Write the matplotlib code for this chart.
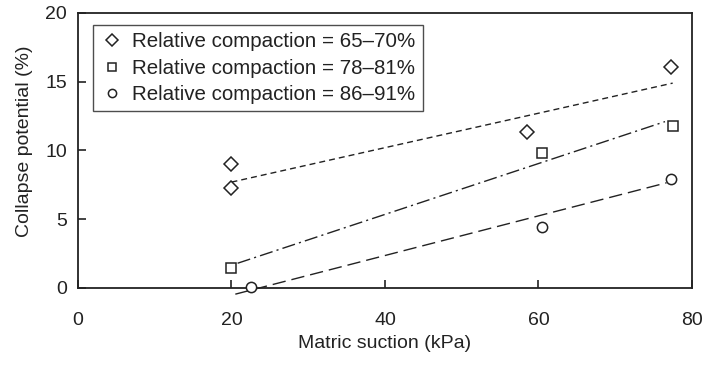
import matplotlib
matplotlib.use("Agg")
import matplotlib.pyplot as plt

plt.rcParams['font.family'] = ['Liberation Sans', 'DejaVu Sans']

# measured points (matric suction kPa, collapse potential %)
x_65 = [20, 20, 58.5, 77.3]
y_65 = [9.0, 7.3, 11.35, 16.1]
x_78 = [20, 60.5, 77.5]
y_78 = [1.45, 9.8, 11.8]
x_86 = [22.5, 60.5, 77.3]
y_86 = [0.07, 4.45, 7.9]

# trend line end points
fit_65_x = [20, 77.5]
fit_65_y = [7.7, 14.9]
fit_78_x = [20.8, 76.5]
fit_78_y = [1.8, 12.1]
fit_86_x = [20.5, 76.7]
fit_86_y = [-0.45, 7.65]

labels = ["Relative compaction = 65\u201370%",
          "Relative compaction = 78\u201381%",
          "Relative compaction = 86\u201391%"]

fig = plt.figure(figsize=(7.08, 3.65), dpi=100)
ax = fig.add_axes([0.1102, 0.211, 0.867, 0.7534])

ink = "#222222"
ax.plot(fit_65_x, fit_65_y, color=ink, lw=1.0, dashes=(4.3, 2.9), clip_on=False)
ax.plot(fit_78_x, fit_78_y, color=ink, lw=1.0, dashes=(9.5, 3, 1.5, 3), clip_on=False)
ax.plot(fit_86_x, fit_86_y, color=ink, lw=1.0, dashes=(9.6, 4.3), clip_on=False)

ax.plot(x_65, y_65, ls='none', marker='D', ms=7.2, mfc='white', mec=ink, mew=1.1,
        label=labels[0], clip_on=False, zorder=3)
ax.plot(x_78, y_78, ls='none', marker='s', ms=7.2, mfc='white', mec=ink, mew=1.1,
        label=labels[1], clip_on=False, zorder=3)
ax.plot(x_86, y_86, ls='none', marker='o', ms=7.4, mfc='white', mec=ink, mew=1.1,
        label=labels[2], clip_on=False, zorder=3)

ax.set_xlim(0, 80)
ax.set_ylim(0, 20)
ax.set_xticks([0, 20, 40, 60, 80])
ax.set_yticks([0, 5, 10, 15, 20])
ax.tick_params(direction='in', length=6, width=1.2, labelsize=14, colors=ink)
ax.tick_params(axis='x', pad=17.5)
ax.tick_params(axis='y', pad=8)
for s in ax.spines.values():
    s.set_linewidth(1.3)
    s.set_color(ink)

ax.set_xlabel("Matric suction (kPa)", fontsize=14, color=ink, labelpad=4)
ax.set_ylabel("Collapse potential (%)", fontsize=14, color=ink)
ax.yaxis.set_label_coords(-0.073, 0.533)

leg = ax.legend(loc='upper left', bbox_to_anchor=(0.025, 0.955), fontsize=14.8,
                frameon=True, fancybox=False, edgecolor=ink, handlelength=1.17,
                handletextpad=0.39, borderpad=0.34, labelspacing=0.36,
                borderaxespad=0, markerscale=0.8)
leg.get_frame().set_linewidth(1.0)
for t in leg.get_texts():
    t.set_color(ink)

fig.savefig("out.png", dpi=100)
